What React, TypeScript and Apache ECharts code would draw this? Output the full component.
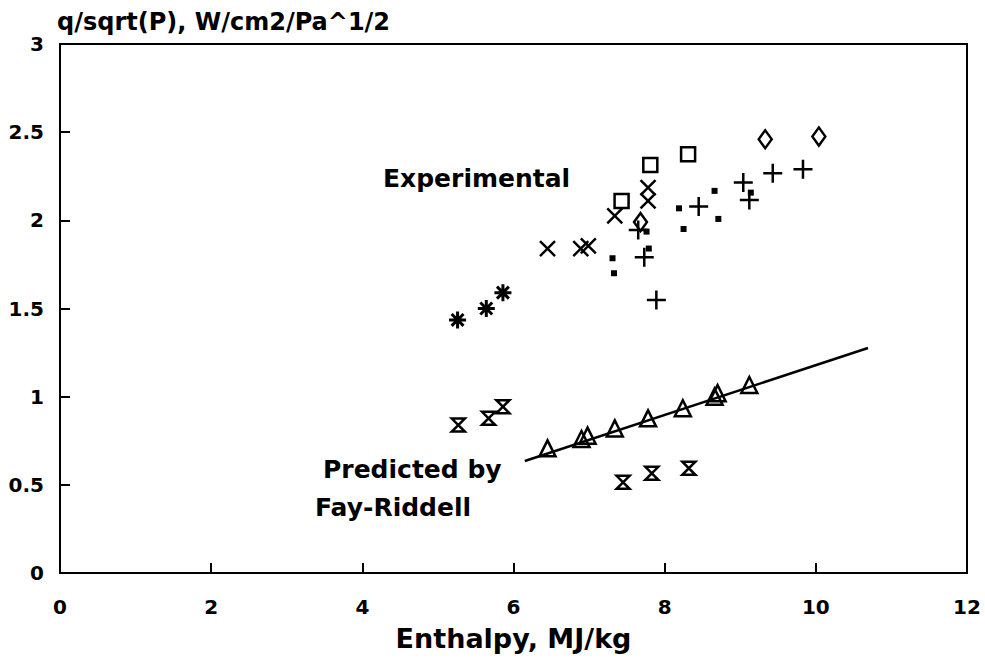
import React, { useEffect, useRef } from "react";
import * as echarts from "echarts";

const xTicks = [0, 2, 4, 6, 8, 10, 12];
const yTicks = [0, 0.5, 1, 1.5, 2, 2.5, 3];

const asteriskPts = [[5.26, 1.435], [5.64, 1.5], [5.86, 1.59]];
const crossPts = [[6.45, 1.84], [6.89, 1.84], [6.99, 1.855], [7.34, 2.025], [7.78, 2.185], [7.78, 2.11]];
const squarePts = [[7.43, 2.11], [7.81, 2.314], [8.31, 2.375]];
const diamondPts = [[7.68, 1.99], [9.33, 2.46], [10.04, 2.475]];
const plusPts = [[7.65, 1.945], [7.73, 1.79], [7.89, 1.548], [8.45, 2.078], [9.04, 2.214], [9.12, 2.116], [9.43, 2.267], [9.83, 2.29]];
const dotPts = [[7.31, 1.785], [7.33, 1.7], [7.76, 1.936], [7.79, 1.84], [8.19, 2.068], [8.25, 1.951], [8.66, 2.167], [8.71, 2.008], [9.14, 2.157]];
const hourglassPts = [[5.27, 0.839], [5.67, 0.877], [5.86, 0.943], [7.45, 0.514], [7.83, 0.565], [8.32, 0.594]];
const trianglePts = [[6.45, 0.707], [6.9, 0.76], [6.98, 0.779], [7.34, 0.82], [7.78, 0.877], [8.24, 0.934], [8.66, 1.0], [8.7, 1.02], [9.12, 1.066]];
const fayRiddellLine = [[6.15, 0.635], [10.69, 1.276]];

const FONT = '"DejaVu Sans", "Liberation Sans", sans-serif';

const hollow = (symbol: any, size: any, width = 2.5) => ({
  symbol,
  symbolSize: size,
  itemStyle: { color: "transparent", borderColor: "#000", borderWidth: width, opacity: 1 },
});

export default function App() {
  const ref = useRef<HTMLDivElement>(null);
  useEffect(() => {
    if (!ref.current) return;
    const chart = echarts.init(ref.current, undefined, { renderer: "svg" });
    const sc = (name: string, data: number[][], style: any) => ({
      type: "scatter",
      name,
      data,
      z: 3,
      emphasis: { disabled: true },
      ...style,
    });
    const tickLabel = { fontFamily: FONT, fontWeight: "bold", fontSize: 20, color: "#000" };
    chart.setOption({
      animation: false,
      backgroundColor: "#fff",
      grid: {
        left: 60,
        right: 18,
        top: 44,
        bottom: 87,
        outerBoundsMode: "none",
        containLabel: false,
        show: true,
        borderColor: "#000",
        borderWidth: 2,
        backgroundColor: "transparent",
      },
      xAxis: {
        type: "value",
        min: 0,
        max: 12,
        interval: 2,
        name: "Enthalpy, MJ/kg",
        nameLocation: "middle",
        nameGap: 52,
        nameTextStyle: { fontFamily: FONT, fontWeight: "bold", fontSize: 27, color: "#000" },
        axisLine: { show: true, lineStyle: { color: "#000", width: 2 } },
        axisTick: { show: true, inside: true, length: 10, lineStyle: { color: "#000", width: 2 } },
        axisLabel: {
          show: true,
          margin: 24,
          ...tickLabel,
          formatter: (v: number) => (xTicks.includes(v) ? String(v) : ""),
        },
        splitLine: { show: false },
      },
      yAxis: {
        type: "value",
        min: 0,
        max: 3,
        interval: 0.5,
        name: "q/sqrt(P), W/cm2/Pa^1/2",
        nameLocation: "end",
        nameGap: 22,
        nameTextStyle: {
          fontFamily: FONT,
          fontWeight: "bold",
          fontSize: 24,
          color: "#000",
          align: "left",
          verticalAlign: "middle",
          padding: [0, 0, 0, -3],
        },
        axisLine: { show: true, lineStyle: { color: "#000", width: 2 } },
        axisTick: { show: true, inside: true, length: 10, lineStyle: { color: "#000", width: 2 } },
        axisLabel: {
          show: true,
          margin: 16,
          ...tickLabel,
          formatter: (v: number) => (yTicks.includes(v) ? String(v) : ""),
        },
        splitLine: { show: false },
      },
      series: [
        {
          type: "line",
          name: "Fay-Riddell",
          data: fayRiddellLine,
          symbol: "none",
          lineStyle: { color: "#000", width: 2.5, opacity: 1 },
          z: 2,
        },
        sc("asterisk", asteriskPts, hollow("path://M5,0L5,10M0,5L10,5M1.5,1.5L8.5,8.5M8.5,1.5L1.5,8.5", 17, 3)),
        sc("cross", crossPts, hollow("path://M0,0L10,10M10,0L0,10", 15, 2.5)),
        sc("square", squarePts, hollow("rect", 14, 2.5)),
        sc("diamond", diamondPts, hollow("diamond", [13, 18], 2.5)),
        sc("plus", plusPts, hollow("path://M5,0L5,10M0,5L10,5", 19, 2.5)),
        sc("dot", dotPts, { symbol: "rect", symbolSize: 6, itemStyle: { color: "#000", opacity: 1 } }),
        sc("hourglass", hourglassPts, hollow("path://M0,0L10,0L0,10L10,10Z", [13, 13], 2.5)),
        sc("triangle", trianglePts, hollow("triangle", 16, 2.5)),
      ],
      graphic: [
        {
          type: "text",
          style: { x: 383, y: 178, text: "Experimental", fill: "#000", font: `bold 25px ${FONT}`, verticalAlign: "middle", align: "left" },
        },
        {
          type: "text",
          style: { x: 323, y: 469, text: "Predicted by", fill: "#000", font: `bold 25px ${FONT}`, verticalAlign: "middle", align: "left" },
        },
        {
          type: "text",
          style: { x: 315, y: 507, text: "Fay-Riddell", fill: "#000", font: `bold 25px ${FONT}`, verticalAlign: "middle", align: "left" },
        },
      ],
    });
    return () => chart.dispose();
  }, []);
  return (
    <div
      ref={ref}
      style={{ position: "fixed", left: 0, top: 0, width: 985, height: 660, background: "#fff" }}
    />
  );
}
